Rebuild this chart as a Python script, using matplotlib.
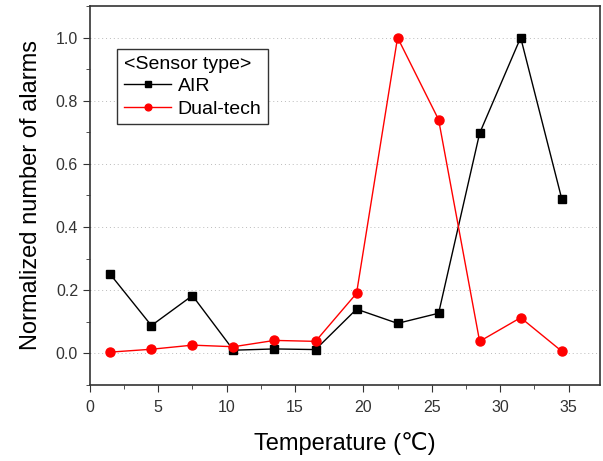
import matplotlib
matplotlib.use("Agg")
import matplotlib.pyplot as plt
from matplotlib.ticker import MultipleLocator

plt.rcParams['font.family'] = ['Liberation Sans', 'DejaVu Sans']

temps = [1.5, 4.5, 7.5, 10.5, 13.5, 16.5, 19.5, 22.5, 25.5, 28.5, 31.5, 34.5]
air = [0.25, 0.088, 0.183, 0.01, 0.014, 0.012, 0.14, 0.095, 0.127, 0.697, 1.0, 0.49]
dual = [0.004, 0.013, 0.026, 0.021, 0.041, 0.038, 0.19, 1.0, 0.74, 0.038, 0.113, 0.007]

fig = plt.figure(figsize=(6.03, 4.61), dpi=100)
ax = fig.add_axes([0.149, 0.165, 0.846, 0.822])

ax.plot(temps, air, color='black', lw=1, marker='s', ms=6, label='AIR')
ax.plot(temps, dual, color='red', lw=1, marker='o', ms=6.5, label='Dual-tech')

ax.set_xlim(0, 37.3)
ax.set_ylim(-0.1, 1.1)
ax.xaxis.set_major_locator(MultipleLocator(5))
ax.xaxis.set_minor_locator(MultipleLocator(2.5))
ax.yaxis.set_major_locator(MultipleLocator(0.2))
ax.yaxis.set_minor_locator(MultipleLocator(0.1))
ax.yaxis.set_major_formatter(matplotlib.ticker.FormatStrFormatter('%.1f'))
ax.tick_params(which='both', direction='out', colors='#333333', labelsize=11.5)
ax.tick_params(which='major', length=5)
ax.tick_params(which='minor', length=3)
ax.tick_params(axis='x', pad=6)
for s in ax.spines.values():
    s.set_color('#333333')
    s.set_linewidth(1.2)

ax.grid(axis='y', which='major', linestyle=(0, (1, 3)), color='#bbbbbb', lw=0.7)
ax.set_axisbelow(True)

ax.set_xlabel('Temperature (℃)', fontsize=17, labelpad=12)
ax.set_ylabel('Normalized number of alarms', fontsize=17, labelpad=10)

leg = ax.legend(title='<Sensor type>', loc='upper left', bbox_to_anchor=(0.054, 0.887),
                fancybox=False, framealpha=1, edgecolor='#333333', fontsize=14,
                title_fontsize=14, handlelength=2.4, borderpad=0.35, labelspacing=0.25,
                handletextpad=0.35, borderaxespad=0, markerscale=0.75)
leg._legend_box.align = 'left'
leg.get_frame().set_linewidth(1.0)

fig.savefig('out.png', dpi=100)
